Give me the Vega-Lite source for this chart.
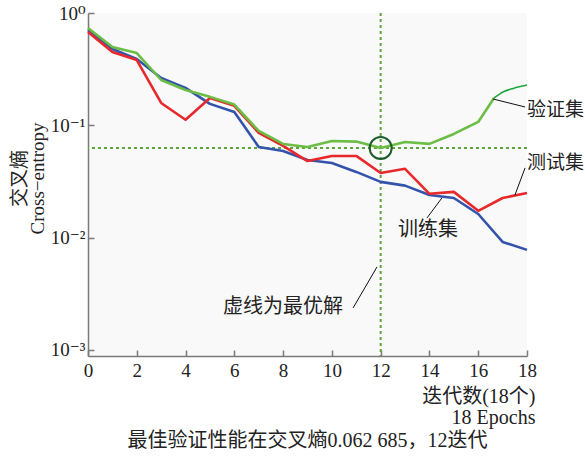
{
  "$schema": "https://vega.github.io/schema/vega-lite/v6.json",
  "width": 439,
  "height": 343,
  "autosize": {"type": "none"},
  "padding": {"left": 88, "top": 13, "right": 58, "bottom": 102},
  "background": "white",
  "config": {"view": {"fill": "#f9f9f9", "stroke": null}},
  "title": {
    "text": "最佳验证性能在交叉熵0.062 685，12迭代",
    "orient": "bottom",
    "fontSize": 20,
    "fontWeight": "normal",
    "font": "Liberation Serif, Noto Sans CJK SC",
    "color": "#222222",
    "offset": 4
  },
  "datasets": {
    "curves": [
      {"epoch": 0, "value": 0.706, "series": "train"},
      {"epoch": 1, "value": 0.478, "series": "train"},
      {"epoch": 2, "value": 0.389, "series": "train"},
      {"epoch": 3, "value": 0.264, "series": "train"},
      {"epoch": 4, "value": 0.215, "series": "train"},
      {"epoch": 5, "value": 0.155, "series": "train"},
      {"epoch": 6, "value": 0.131, "series": "train"},
      {"epoch": 7, "value": 0.0641, "series": "train"},
      {"epoch": 8, "value": 0.059, "series": "train"},
      {"epoch": 9, "value": 0.049, "series": "train"},
      {"epoch": 10, "value": 0.0461, "series": "train"},
      {"epoch": 11, "value": 0.0384, "series": "train"},
      {"epoch": 12, "value": 0.0313, "series": "train"},
      {"epoch": 13, "value": 0.029, "series": "train"},
      {"epoch": 14, "value": 0.0239, "series": "train"},
      {"epoch": 15, "value": 0.0225, "series": "train"},
      {"epoch": 16, "value": 0.0162, "series": "train"},
      {"epoch": 17, "value": 0.00914, "series": "train"},
      {"epoch": 18, "value": 0.00776, "series": "train"},
      {"epoch": 0, "value": 0.677, "series": "test"},
      {"epoch": 1, "value": 0.45, "series": "test"},
      {"epoch": 2, "value": 0.381, "series": "test"},
      {"epoch": 3, "value": 0.158, "series": "test"},
      {"epoch": 4, "value": 0.112, "series": "test"},
      {"epoch": 5, "value": 0.175, "series": "test"},
      {"epoch": 6, "value": 0.149, "series": "test"},
      {"epoch": 7, "value": 0.0854, "series": "test"},
      {"epoch": 8, "value": 0.0654, "series": "test"},
      {"epoch": 9, "value": 0.048, "series": "test"},
      {"epoch": 10, "value": 0.0533, "series": "test"},
      {"epoch": 11, "value": 0.0533, "series": "test"},
      {"epoch": 12, "value": 0.0376, "series": "test"},
      {"epoch": 13, "value": 0.0409, "series": "test"},
      {"epoch": 14, "value": 0.0245, "series": "test"},
      {"epoch": 15, "value": 0.0255, "series": "test"},
      {"epoch": 16, "value": 0.0173, "series": "test"},
      {"epoch": 17, "value": 0.0225, "series": "test"},
      {"epoch": 18, "value": 0.0249, "series": "test"},
      {"epoch": 0, "value": 0.735, "series": "val"},
      {"epoch": 1, "value": 0.498, "series": "val"},
      {"epoch": 2, "value": 0.44, "series": "val"},
      {"epoch": 3, "value": 0.253, "series": "val"},
      {"epoch": 4, "value": 0.206, "series": "val"},
      {"epoch": 5, "value": 0.179, "series": "val"},
      {"epoch": 6, "value": 0.153, "series": "val"},
      {"epoch": 7, "value": 0.089, "series": "val"},
      {"epoch": 8, "value": 0.0682, "series": "val"},
      {"epoch": 9, "value": 0.064, "series": "val"},
      {"epoch": 10, "value": 0.0724, "series": "val"},
      {"epoch": 11, "value": 0.0715, "series": "val"},
      {"epoch": 12, "value": 0.0627, "series": "val"},
      {"epoch": 13, "value": 0.071, "series": "val"},
      {"epoch": 14, "value": 0.0682, "series": "val"},
      {"epoch": 15, "value": 0.0837, "series": "val"},
      {"epoch": 16, "value": 0.107, "series": "val"},
      {"epoch": 16.65, "value": 0.175, "series": "val"}
    ],
    "tail": [
      {"epoch": 16.65, "value": 0.175},
      {"epoch": 17.03, "value": 0.199},
      {"epoch": 17.44, "value": 0.213},
      {"epoch": 18, "value": 0.228}
    ],
    "leaders": [
      {"x1": 16.6, "y1": 0.1715, "x2": 17.92, "y2": 0.1455},
      {"x1": 17.5, "y1": 0.0237, "x2": 17.92, "y2": 0.0417},
      {"x1": 13.9, "y1": 0.01495, "x2": 14.51, "y2": 0.0225},
      {"x1": 10.87, "y1": 0.00236, "x2": 11.85, "y2": 0.00547}
    ],
    "labelsLeft": [
      {"epoch": 18, "value": 0.1368, "label": "验证集"},
      {"epoch": 18, "value": 0.0462, "label": "测试集"}
    ],
    "labelsCenter": [
      {"epoch": 13.94, "value": 0.0117, "label": "训练集"}
    ],
    "labelsRight": [
      {"epoch": 10.46, "value": 0.00241, "label": "虚线为最优解"}
    ],
    "best": [
      {"epoch": 12, "value": 0.062685}
    ]
  },
  "layer": [
    {
      "data": {"name": "best"},
      "mark": {"type": "rule", "color": "#5aa63c", "strokeWidth": 2, "strokeDash": [3, 3]},
      "encoding": {
        "y": {
          "field": "value",
          "type": "quantitative",
          "scale": {"type": "log", "domain": [0.00088, 1], "nice": false},
          "axis": {
            "title": ["交叉熵", "Cross−entropy"],
            "values": [0.001, 0.01, 0.1, 1],
            "labelExpr": "datum.value > 0.5 ? '10⁰' : datum.value > 0.05 ? '10⁻¹' : datum.value > 0.005 ? '10⁻²' : '10⁻³'",
            "grid": false,
            "domainColor": "#7a7a7a",
            "domainWidth": 1.5,
            "tickColor": "#7a7a7a",
            "tickWidth": 1.5,
            "tickSize": -6,
            "labelFont": "Liberation Serif, DejaVu Serif",
            "labelFontSize": 19,
            "labelColor": "#222222",
            "labelPadding": 9,
            "labelFlush": false,
            "titleFont": "Liberation Serif, Noto Sans CJK SC",
            "titleFontSize": 19,
            "titleFontWeight": "normal",
            "titleColor": "#222222",
            "titlePadding": 3,
            "titleY": 165,
            "titleLineHeight": 18
          }
        }
      }
    },
    {
      "data": {"name": "best"},
      "mark": {"type": "rule", "color": "#5aa63c", "strokeWidth": 2, "strokeDash": [3, 3]},
      "encoding": {
        "x": {
          "field": "epoch",
          "type": "quantitative",
          "scale": {"domain": [0, 18], "nice": false},
          "axis": {
            "title": ["迭代数(18个)", "18 Epochs"],
            "values": [0, 2, 4, 6, 8, 10, 12, 14, 16, 18],
            "format": "d",
            "grid": false,
            "domainColor": "#7a7a7a",
            "domainWidth": 1.5,
            "tickColor": "#7a7a7a",
            "tickWidth": 1.5,
            "tickSize": -6,
            "labelFont": "Liberation Serif",
            "labelFontSize": 19,
            "labelColor": "#222222",
            "labelPadding": 11,
            "labelFlush": false,
            "titleFont": "Liberation Serif, Noto Sans CJK SC",
            "titleFontSize": 20,
            "titleFontWeight": "normal",
            "titleColor": "#222222",
            "titleAnchor": "end",
            "titleAlign": "right",
            "titleBaseline": "top",
            "titleX": 447,
            "titleY": 30,
            "titleLineHeight": 21
          }
        }
      }
    },
    {
      "data": {"name": "curves"},
      "mark": {"type": "line", "strokeWidth": 2.6, "strokeJoin": "round"},
      "encoding": {
        "x": {"field": "epoch", "type": "quantitative"},
        "y": {"field": "value", "type": "quantitative"},
        "color": {
          "field": "series",
          "type": "nominal",
          "scale": {"domain": ["train", "test", "val"], "range": ["#3353ac", "#e8282b", "#6cbd45"]},
          "legend": null
        },
        "order": {"field": "epoch", "type": "quantitative"}
      }
    },
    {
      "data": {"name": "tail"},
      "mark": {"type": "line", "strokeWidth": 1.6, "color": "#1ea63c", "interpolate": "monotone"},
      "encoding": {
        "x": {"field": "epoch", "type": "quantitative"},
        "y": {"field": "value", "type": "quantitative"}
      }
    },
    {
      "data": {"name": "best"},
      "mark": {"type": "point", "shape": "circle", "filled": false, "size": 484, "stroke": "#1f5c2c", "strokeWidth": 2, "opacity": 1},
      "encoding": {
        "x": {"field": "epoch", "type": "quantitative"},
        "y": {"field": "value", "type": "quantitative"}
      }
    },
    {
      "data": {"name": "leaders"},
      "mark": {"type": "rule", "color": "#111111", "strokeWidth": 1},
      "encoding": {
        "x": {"field": "x1", "type": "quantitative"},
        "y": {"field": "y1", "type": "quantitative"},
        "x2": {"field": "x2"},
        "y2": {"field": "y2"}
      }
    },
    {
      "data": {"name": "labelsLeft"},
      "mark": {"type": "text", "align": "left", "baseline": "middle", "dx": 0, "fontSize": 19, "font": "Liberation Serif, Noto Sans CJK SC", "color": "#222222"},
      "encoding": {
        "x": {"field": "epoch", "type": "quantitative"},
        "y": {"field": "value", "type": "quantitative"},
        "text": {"field": "label"}
      }
    },
    {
      "data": {"name": "labelsCenter"},
      "mark": {"type": "text", "align": "center", "baseline": "middle", "fontSize": 20, "font": "Liberation Serif, Noto Sans CJK SC", "color": "#222222"},
      "encoding": {
        "x": {"field": "epoch", "type": "quantitative"},
        "y": {"field": "value", "type": "quantitative"},
        "text": {"field": "label"}
      }
    },
    {
      "data": {"name": "labelsRight"},
      "mark": {"type": "text", "align": "right", "baseline": "middle", "fontSize": 20, "font": "Liberation Serif, Noto Sans CJK SC", "color": "#222222"},
      "encoding": {
        "x": {"field": "epoch", "type": "quantitative"},
        "y": {"field": "value", "type": "quantitative"},
        "text": {"field": "label"}
      }
    }
  ]
}
